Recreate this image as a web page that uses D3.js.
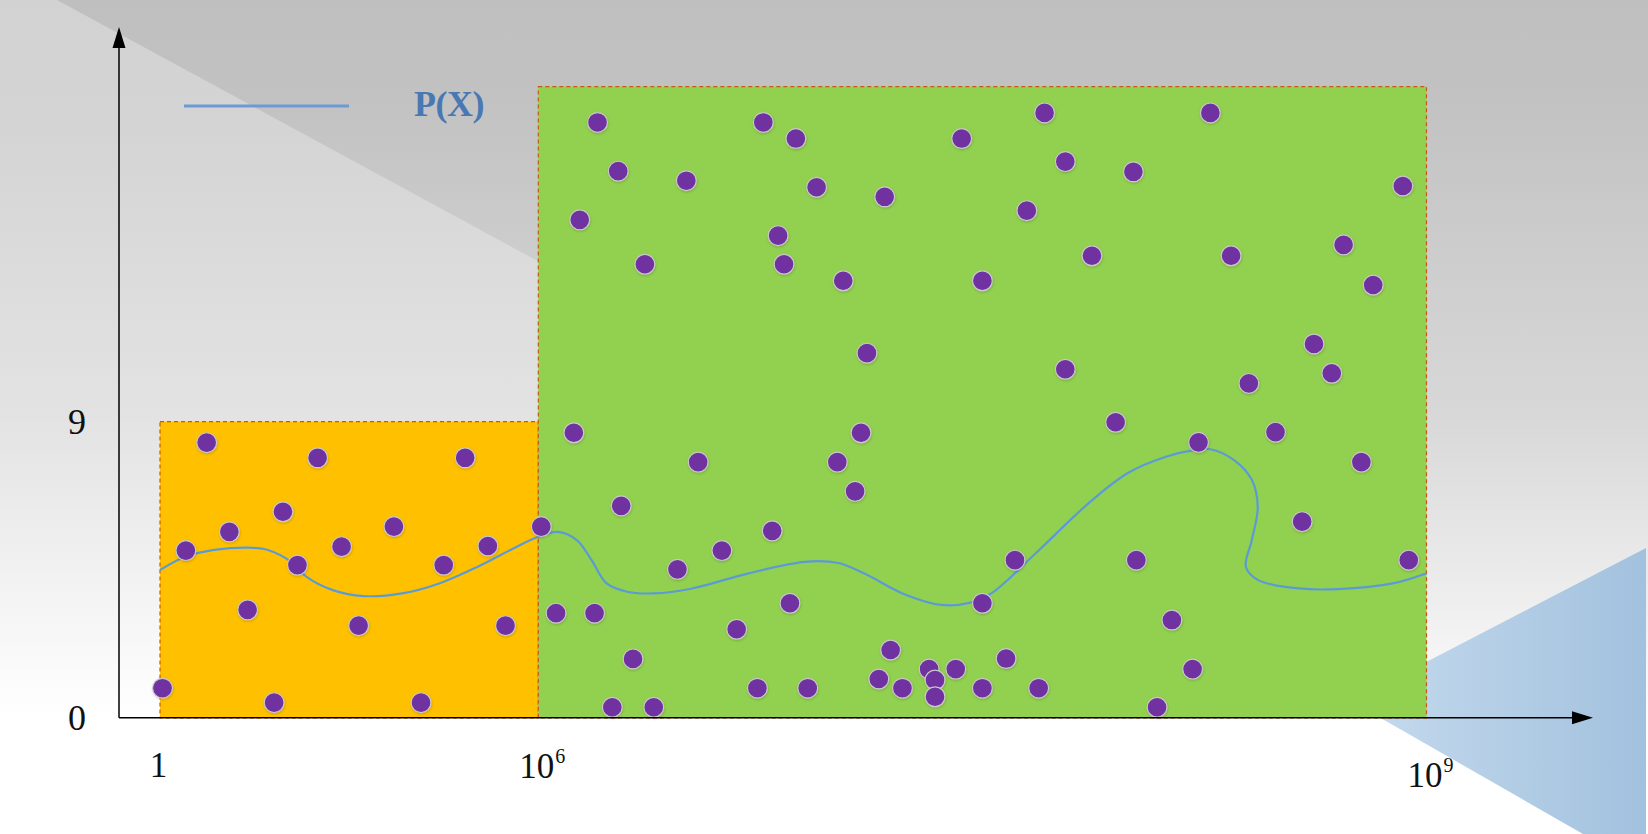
<!DOCTYPE html>
<html>
<head>
<meta charset="utf-8">
<script src="https://cdn.jsdelivr.net/npm/d3@7"></script>
<style>
  html, body { margin: 0; padding: 0; background: #ffffff; }
  svg { display: block; }
</style>
</head>
<body>
<svg id="chart" width="1648" height="834"></svg>
<script>
// ---------------- DATA ----------------
// x values are log10(X); y values in chart units
const xTickValues = [0, 6, 9];
const xTickBase = ["1", "10", "10"];
const xTickExp = ["", "6", "9"];
const yTickValues = [0, 9];

const regionFrom = [0, 6];
const regionTo = [6, 9];
const regionTop = [9, 19.18];

const legendLabel = "P(X)";

const dotLogX = [
  0.04, 0.74, 0.41, 1.10, 1.39, 1.95, 2.18, 1.81, 2.50, 2.88, 3.15, 3.71, 4.14, 4.50, 4.84, 5.20, 5.48, 6.01,
  6.20, 6.27, 6.50, 6.14, 6.36, 6.76, 6.87, 6.94, 7.17, 6.81, 6.83, 7.03, 7.43, 7.71, 7.78, 7.65, 7.87, 7.50,
  7.11, 7.78, 6.12, 7.09, 8.27, 8.01, 8.92, 8.34, 8.72, 8.82, 8.62, 8.68, 8.40, 7.95, 8.23, 8.49,
  6.54, 7.01, 7.07, 6.28, 6.79, 6.62, 6.47, 7.61, 6.85, 7.50, 6.06, 6.19, 6.67, 7.19, 6.32, 7.58,
  7.32, 7.41, 7.15, 7.34, 7.23, 7.34, 6.74, 6.91, 7.50, 7.69, 6.25, 6.39,
  8.78, 8.58, 8.02, 8.94, 8.14, 8.21, 8.09
];
const dotY = [
  0.90, 8.36, 5.08, 5.65, 3.28, 6.26, 4.64, 0.46, 7.90, 5.20, 2.80, 5.81, 0.46, 4.64, 7.90, 5.22, 2.80, 5.81,
  18.09, 16.61, 16.32, 15.13, 13.78, 18.09, 17.60, 16.12, 15.83, 14.65, 13.78, 13.28, 17.60, 18.38, 16.90, 15.41, 14.04, 13.28,
  11.08, 10.59, 8.66, 8.66, 18.38, 16.59, 16.16, 14.04, 14.37, 13.15, 11.36, 10.47, 10.16, 8.98, 8.37, 8.68,
  7.77, 7.77, 6.88, 6.44, 5.68, 5.08, 4.51, 4.79, 3.48, 3.48, 3.18, 3.18, 2.69, 2.06, 1.79, 1.80,
  1.48, 1.48, 1.18, 1.15, 0.90, 0.64, 0.90, 0.90, 0.90, 0.90, 0.32, 0.32,
  7.77, 5.96, 4.79, 4.79, 2.97, 1.48, 0.32
];

const curveLogX = [
  0.00, 0.41, 0.86, 1.41, 1.71, 2.08, 2.32, 2.74, 3.23, 3.84, 4.44, 5.04, 5.66, 6.00, 6.065, 6.13, 6.18, 6.23,
  6.30, 6.39, 6.52, 6.71, 6.90, 7.01, 7.10, 7.23, 7.36, 7.46, 7.53, 7.68, 7.86, 7.99, 8.12, 8.22, 8.27, 8.35,
  8.41, 8.43, 8.41, 8.39, 8.43, 8.57, 8.70, 8.89, 9.00
];
const curveY = [
  4.49, 4.90, 5.10, 5.17, 5.10, 4.74, 4.29, 3.88, 3.70, 3.78, 4.09, 4.59, 5.20, 5.50, 5.65, 5.40, 4.79, 4.09,
  3.83, 3.78, 3.93, 4.39, 4.74, 4.71, 4.39, 3.78, 3.43, 3.50, 3.78, 5.00, 6.53, 7.43, 7.93, 8.14, 8.16, 7.83,
  7.23, 6.41, 5.40, 4.59, 4.19, 3.93, 3.91, 4.09, 4.39
];

// ---------------- LAYOUT / STYLE ----------------
const W = 1648, H = 834;
const regionFill = ["#FFC000", "#92D050"];
const axisX = 119;            // pixel position of vertical axis line
const fontFam = "'Liberation Serif', 'Times New Roman', Times, serif";

const svg = d3.select("#chart");

const x = d3.scaleLinear().domain(xTickValues).range([160, 538.3, 1426.5]);
const y = d3.scaleLinear().domain([0, 9]).range([717.8, 421.6]);

const defs = svg.append("defs");
function vgrad(id, stops, x1, y1, x2, y2) {
  const g = defs.append("linearGradient").attr("id", id)
    .attr("x1", x1).attr("y1", y1).attr("x2", x2).attr("y2", y2)
    .attr("gradientUnits", "userSpaceOnUse");
  stops.forEach(s => g.append("stop").attr("offset", s[0]).attr("stop-color", s[1]));
}
vgrad("bgBase", [[0, "#bfbfbf"], [0.12, "#c2c2c2"], [0.5, "#d8d8d8"], [0.72, "#eeeeee"], [0.86, "#fdfdfd"], [1, "#ffffff"]],
  0, 0, 0, H);
vgrad("bgLeft", [[0, "#d2d2d2"], [0.15, "#d4d4d4"], [0.5, "#e3e3e3"], [0.72, "#f4f4f4"], [0.86, "#ffffff"], [1, "#ffffff"]],
  0, 0, 0, H);
vgrad("blueTri", [[0, "#c6dbee"], [0.5, "#b4cee6"], [1, "#a2c1de"]], 1350, 0, 1648, 0);

const shadow = defs.append("filter").attr("id", "dotShadow")
  .attr("x", "-50%").attr("y", "-50%").attr("width", "200%").attr("height", "200%");
shadow.append("feDropShadow").attr("dx", 0.5).attr("dy", 1.2).attr("stdDeviation", 1)
  .attr("flood-color", "#000").attr("flood-opacity", 0.18);

const blur = defs.append("filter").attr("id", "axShadow")
  .attr("x", "-5%").attr("y", "-200%").attr("width", "110%").attr("height", "500%");
blur.append("feGaussianBlur").attr("stdDeviation", 2);

// ---------------- BACKGROUND ----------------
const bg = svg.append("g");
bg.append("rect").attr("width", W).attr("height", H).attr("fill", "url(#bgBase)");
bg.append("polygon")
  .attr("points", [[0, 0], [57, 0], [1648, 864], [0, 864]].map(p => p.join(",")).join(" "))
  .attr("fill", "url(#bgLeft)");
bg.append("polygon")
  .attr("points", [[1351, 701], [1646, 548], [1646, 834], [1583, 834]].map(p => p.join(",")).join(" "))
  .attr("fill", "url(#blueTri)");

// ---------------- REGIONS ----------------
const regions = regionFrom.map((f, i) => ({ from: f, to: regionTo[i], top: regionTop[i], fill: regionFill[i] }));
svg.append("g").selectAll("rect").data(regions).join("rect")
  .attr("x", d => x(d.from))
  .attr("y", d => y(d.top))
  .attr("width", d => x(d.to) - x(d.from))
  .attr("height", d => y(0) - y(d.top))
  .attr("fill", d => d.fill)
  .attr("stroke", "#C55A11")
  .attr("stroke-width", 1.2)
  .attr("stroke-dasharray", "4,3");

// ---------------- CURVE ----------------
const curvePts = curveLogX.map((v, i) => [v, curveY[i]]);
svg.append("path")
  .datum(curvePts)
  .attr("fill", "none")
  .attr("stroke", "#5B9BD5")
  .attr("stroke-width", 2.2)
  .attr("d", d3.line().x(d => x(d[0])).y(d => y(d[1])).curve(d3.curveCatmullRom.alpha(0.5)));

// ---------------- DOTS ----------------
const dots = dotLogX.map((v, i) => ({ lx: v, v: dotY[i] }));
svg.append("g").attr("filter", "url(#dotShadow)")
  .selectAll("circle").data(dots).join("circle")
  .attr("cx", d => x(d.lx))
  .attr("cy", d => y(d.v))
  .attr("r", 9.9)
  .attr("fill", "#7030A0")
  .attr("stroke", "#c9c9c9")
  .attr("stroke-width", 1.2);

// ---------------- AXES ----------------
const y0 = y(0);
svg.append("line").attr("x1", axisX).attr("x2", 1572).attr("y1", y0 + 3).attr("y2", y0 + 3)
  .attr("stroke", "#9fb4c8").attr("stroke-opacity", 0.35).attr("stroke-width", 3).attr("filter", "url(#axShadow)");

const axes = svg.append("g");
axes.append("line").attr("x1", axisX).attr("x2", axisX).attr("y1", y0).attr("y2", 44)
  .attr("stroke", "#000").attr("stroke-width", 1.5);
axes.append("polygon")
  .attr("points", [[axisX, 27], [axisX - 6.5, 48], [axisX + 6.5, 48]].map(p => p.join(",")).join(" "))
  .attr("fill", "#000");
axes.append("line").attr("x1", axisX).attr("x2", 1576).attr("y1", y0).attr("y2", y0)
  .attr("stroke", "#000").attr("stroke-width", 1.5);
axes.append("polygon")
  .attr("points", [[1593, y0], [1572, y0 - 6.5], [1572, y0 + 6.5]].map(p => p.join(",")).join(" "))
  .attr("fill", "#000");

// Y axis labels
const yAxisG = svg.append("g").attr("transform", `translate(${axisX},0)`)
  .call(d3.axisLeft(y).tickValues(yTickValues).tickSize(0).tickPadding(34).tickFormat(d3.format("d")));
yAxisG.select(".domain").remove();
yAxisG.selectAll("text")
  .attr("font-family", fontFam).attr("font-size", 36).attr("fill", "#111")
  .attr("text-anchor", "middle").attr("x", -42).attr("dy", "0.33em");

// X axis labels
const xAxisG = svg.append("g").attr("transform", `translate(0,${y0})`)
  .call(d3.axisBottom(x).tickValues(xTickValues).tickSize(0).tickPadding(0).tickFormat(() => ""));
xAxisG.select(".domain").remove();
const xLabelDy = [59, 60, 69];
xAxisG.selectAll(".tick").each(function (d, i) {
  const g = d3.select(this);
  g.select("text").remove();
  const t = g.append("text")
    .attr("font-family", fontFam).attr("font-size", 35).attr("fill", "#111")
    .attr("text-anchor", "start")
    .attr("y", xLabelDy[i]);
  const b = t.append("tspan").text(xTickBase[i]);
  const bw = b.node().getComputedTextLength();
  t.attr("x", -bw / 2 - 2);
  if (xTickExp[i]) {
    t.append("tspan").text(xTickExp[i]).attr("font-size", 20).attr("dy", -15).attr("dx", 1);
  }
});

// ---------------- LEGEND ----------------
svg.append("line").attr("x1", 184).attr("x2", 349).attr("y1", 106).attr("y2", 106)
  .attr("stroke", "#6A9BD3").attr("stroke-width", 3);
svg.append("text").attr("x", 414).attr("y", 116)
  .attr("font-family", fontFam).attr("font-weight", "bold").attr("font-size", 36)
  .attr("fill", "#4A78B2").attr("letter-spacing", -0.5)
  .text(legendLabel);
</script>
</body>
</html>
